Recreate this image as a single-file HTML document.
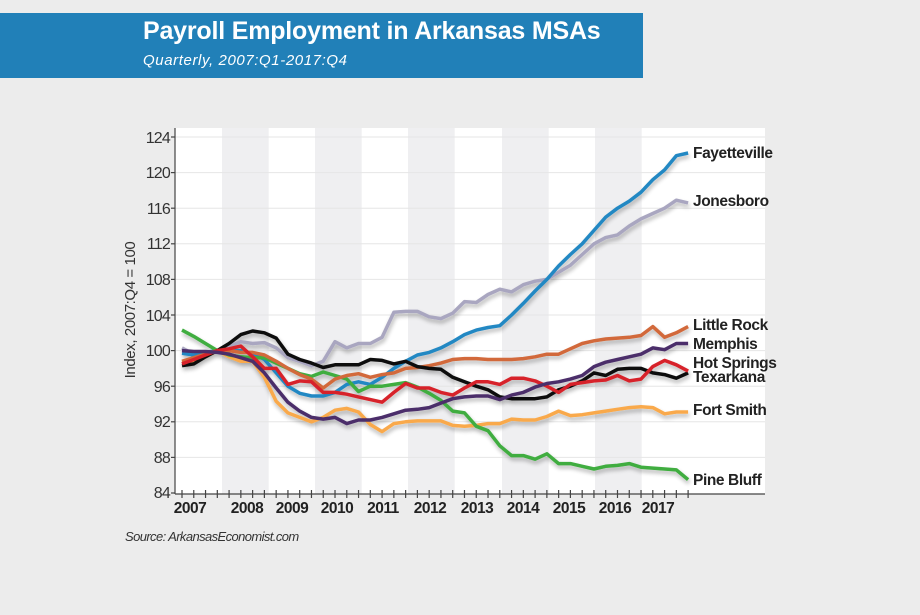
<!DOCTYPE html>
<html><head><meta charset="utf-8"><style>
html,body{margin:0;padding:0;background:#ececec;}
svg{display:block;}
.t{font-family:"Liberation Sans",sans-serif;}
</style></head><body>
<svg id="s" width="920" height="615" viewBox="0 0 920 615" xmlns="http://www.w3.org/2000/svg">
<defs><filter id="sh" x="-5%" y="-20%" width="110%" height="140%"><feGaussianBlur in="SourceAlpha" stdDeviation="2"/><feOffset dx="1" dy="3"/><feComponentTransfer><feFuncA type="linear" slope="0.3"/></feComponentTransfer><feMerge><feMergeNode/><feMergeNode in="SourceGraphic"/></feMerge></filter></defs>
<rect x="0" y="0" width="920" height="615" fill="#ececec"/>
<rect x="0" y="13" width="643" height="65" fill="#2180b8"/>
<text x="143" y="39" class="t" font-size="25" font-weight="bold" fill="#fff" letter-spacing="-0.2">Payroll Employment in Arkansas MSAs</text>
<text x="143" y="65" class="t" font-size="15" font-style="italic" fill="#fff" letter-spacing="0.6">Quarterly, 2007:Q1-2017:Q4</text>
<rect x="175" y="128" width="590" height="366" fill="#fff"/>
<g id="bands" fill="#efeff1"></g>
<g id="grid" stroke="#e6e6e6" stroke-width="1"></g>
<g id="axis" stroke="#444" stroke-width="1.2"></g>
<g class="t" font-size="16" fill="#333" text-anchor="end" letter-spacing="-0.8">
<text x="170" y="143">124</text><text x="170" y="178">120</text><text x="170" y="214">116</text><text x="170" y="249">112</text><text x="170" y="285">108</text><text x="170" y="321">104</text><text x="170" y="356">100</text><text x="170" y="392">96</text><text x="170" y="427">92</text><text x="170" y="463">88</text><text x="170" y="498">84</text>
</g>
<text transform="translate(135,310) rotate(-90)" class="t" font-size="15" fill="#333" text-anchor="middle" letter-spacing="-0.4">Index, 2007:Q4 = 100</text>
<g class="t" font-size="15.5" font-weight="bold" fill="#222" text-anchor="middle" letter-spacing="-0.5">
<text x="190" y="513">2007</text><text x="247" y="513">2008</text><text x="292" y="513">2009</text><text x="337" y="513">2010</text><text x="383" y="513">2011</text><text x="430" y="513">2012</text><text x="477" y="513">2013</text><text x="523" y="513">2014</text><text x="569" y="513">2015</text><text x="615" y="513">2016</text><text x="658" y="513">2017</text>
</g>
<text x="125" y="541" class="t" font-size="13" font-style="italic" fill="#333" letter-spacing="-0.6">Source: ArkansasEconomist.com</text>
<g id="lines" fill="none" stroke-width="3.5" stroke-linejoin="round" filter="url(#sh)"></g>
<g class="t" font-size="15.5" font-weight="bold" fill="#222" letter-spacing="-0.4">
<text x="693" y="158">Fayetteville</text>
<text x="693" y="206">Jonesboro</text>
<text x="693" y="330">Little Rock</text>
<text x="693" y="349">Memphis</text>
<text x="693" y="368">Hot Springs</text>
<text x="693" y="382">Texarkana</text>
<text x="693" y="415">Fort Smith</text>
<text x="693" y="485">Pine Bluff</text>
</g>
</svg>
<script>
var NS="http://www.w3.org/2000/svg";
function el(p,n,a){var e=document.createElementNS(NS,n);for(var k in a)e.setAttribute(k,a[k]);document.getElementById(p).appendChild(e);}
function Y(v){return 493-(v-84)*8.9;}
var b=[222,315,408,502,595];b.forEach(function(x){el("bands","rect",{x:x,y:128,width:46.7,height:366});});
for(var v=88;v<=124;v+=4){el("grid","line",{x1:175,x2:765,y1:Y(v),y2:Y(v)});}
el("axis","line",{x1:175,x2:175,y1:128,y2:494});
el("axis","line",{x1:175,x2:765,y1:494,y2:494});
for(var v=84;v<=124;v+=4){el("axis","line",{x1:171,x2:175,y1:Y(v),y2:Y(v)});}
for(var i=0;i<44;i++){var x=182+i*11.77;el("axis","line",{x1:x,x2:x,y1:490,y2:498});}
var S={
"#a9a6c0":[100.3,99.6,99.8,100,100.5,101,100.8,100.9,100.3,99.2,98.8,98.3,98.8,101,100.3,100.8,100.8,101.5,104.3,104.4,104.4,103.8,103.6,104.2,105.5,105.4,106.3,106.9,106.6,107.4,107.8,108,108.8,109.6,110.8,112,112.7,113,114,114.8,115.4,116,116.9,116.6],
"#2388c3":[99.7,99.5,99.8,100,100,100,99.7,99,97.5,96,95.2,94.9,94.9,95.3,96.2,96.5,96.2,97,98,98.8,99.5,99.8,100.3,101,101.8,102.3,102.6,102.8,104,105.3,106.7,108,109.5,110.8,112,113.5,115,116,116.8,117.8,119.2,120.3,121.9,122.2],
"#f9a94b":[98.6,98.8,99.3,100,99.3,98.8,98.8,97,94.3,93,92.5,92,92.5,93.3,93.5,93.1,91.7,90.9,91.8,92,92.1,92.1,92.1,91.6,91.5,91.6,91.8,91.8,92.3,92.2,92.2,92.6,93.2,92.7,92.8,93,93.2,93.4,93.6,93.7,93.6,92.9,93.1,93.1],
"#3fad3f":[102.3,101.6,100.8,100,99.5,99.3,99.2,99.2,98.6,98,97.4,97.1,97.6,97.2,96.8,95.4,96,96,96.2,96.4,95.9,95.2,94.4,93.2,93,91.5,91,89.3,88.2,88.2,87.8,88.4,87.3,87.3,87,86.7,87,87.1,87.3,86.9,86.8,86.7,86.6,85.5],
"#d2693a":[98.8,99.2,99.6,100,100,99.8,99.8,99.5,98.8,98,97.3,96.8,95.8,96.8,97.2,97.4,97,97.3,97.5,98,98.1,98.3,98.6,99,99.1,99.1,99,99,99,99.1,99.3,99.6,99.6,100.2,100.8,101.1,101.3,101.4,101.5,101.7,102.7,101.5,102,102.7],
"#111111":[98.3,98.5,99.3,100,100.8,101.8,102.2,102,101.4,99.6,99,98.6,98.1,98.4,98.4,98.4,99,98.9,98.5,98.8,98.2,98,97.9,97,96.5,96,95.6,94.8,94.6,94.6,94.6,94.8,95.6,96,96.6,97.5,97.2,97.9,98,98,97.5,97.3,96.9,97.5],
"#d7232a":[98.5,99,99.5,100,100.2,100.5,99.3,98,98,96.2,96.6,96.5,95.3,95.3,95.1,94.8,94.5,94.2,95.3,96.3,95.8,95.8,95.3,95,95.8,96.5,96.5,96.2,96.9,96.9,96.6,96,95.3,96.2,96.4,96.6,96.7,97.2,96.6,96.8,98.2,98.9,98.4,97.7],
"#4b2d6b":[100,99.9,99.9,99.8,99.6,99.2,98.8,97.5,95.8,94.2,93.2,92.5,92.3,92.5,91.8,92.2,92.2,92.5,92.9,93.3,93.4,93.6,94.1,94.6,94.8,94.9,94.9,94.5,95,95.3,95.9,96.3,96.5,96.8,97.2,98.2,98.7,99,99.3,99.6,100.3,100.1,100.8,100.8]
};
for(var c in S){var p=S[c].map(function(v,i){return (182+i*11.77).toFixed(1)+","+Y(v).toFixed(1);}).join(" ");el("lines","polyline",{points:p,stroke:c});}
</script>
</body></html>
